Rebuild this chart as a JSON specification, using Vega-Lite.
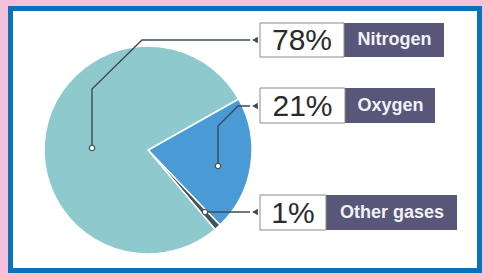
{
  "$schema": "https://vega.github.io/schema/vega-lite/v6.json",
  "width": 483,
  "height": 273,
  "autosize": {"type": "fit", "contains": "padding"},
  "padding": {"left": 10.5, "top": 8.5, "right": 3.5, "bottom": 2.5},
  "background": "#f3c1dd",
  "config": {
    "view": {"fill": "#ffffff", "stroke": "#0b72b9", "strokeWidth": 5},
    "font": "Liberation Sans"
  },
  "datasets": {
    "gases": [
      {"gas": "Oxygen", "percent": 21, "ord": 1},
      {"gas": "Other gases", "percent": 1, "ord": 2},
      {"gas": "Nitrogen", "percent": 78, "ord": 3}
    ],
    "labels": [
      {"gas": "Nitrogen", "pct": "78%", "wx1": 112, "wx2": 196, "px2": 296, "ytop": 127, "ybot": 93, "ymid": 110, "tx": 154, "nx": 246.5},
      {"gas": "Oxygen", "pct": "21%", "wx1": 112, "wx2": 197, "px2": 287, "ytop": 62, "ybot": 27, "ymid": 44.5, "tx": 154.5, "nx": 242.5},
      {"gas": "Other gases", "pct": "1%", "wx1": 112, "wx2": 178, "px2": 309, "ytop": -45, "ybot": -80, "ymid": -62.5, "tx": 145, "nx": 244}
    ],
    "leaders": [
      {"gas": "Nitrogen", "step": 0, "x": -56, "y": 2},
      {"gas": "Nitrogen", "step": 1, "x": -56, "y": 61},
      {"gas": "Nitrogen", "step": 2, "x": -6, "y": 110},
      {"gas": "Nitrogen", "step": 3, "x": 102, "y": 110},
      {"gas": "Oxygen", "step": 0, "x": 70, "y": -16},
      {"gas": "Oxygen", "step": 1, "x": 70, "y": 24},
      {"gas": "Oxygen", "step": 2, "x": 90, "y": 44},
      {"gas": "Oxygen", "step": 3, "x": 102, "y": 44},
      {"gas": "Other gases", "step": 0, "x": 57, "y": -62},
      {"gas": "Other gases", "step": 3, "x": 102, "y": -62}
    ]
  },
  "encoding": {},
  "layer": [
    {
      "data": {"name": "gases"},
      "mark": {"type": "arc", "outerRadius": 104, "stroke": "#ffffff", "strokeWidth": 1.5},
      "encoding": {
        "x": {"datum": 0, "type": "quantitative", "scale": {"domain": [-137.5, 331.5], "nice": false, "zero": false}, "axis": null},
        "y": {"datum": 0, "type": "quantitative", "scale": {"domain": [-120.5, 141.5], "nice": false, "zero": false}, "axis": null},
        "theta": {"field": "percent", "type": "quantitative", "stack": true, "scale": {"range": [1.058, 7.341]}},
        "order": {"field": "ord", "type": "quantitative"},
        "color": {"field": "gas", "type": "nominal", "legend": null, "scale": {"domain": ["Nitrogen", "Oxygen", "Other gases"], "range": ["#8ecacd", "#4a9ad6", "#44525c"]}}
      }
    },
    {
      "data": {"name": "leaders"},
      "mark": {"type": "line", "stroke": "#3d4c55", "strokeWidth": 1.4},
      "encoding": {
        "x": {"field": "x", "type": "quantitative"},
        "y": {"field": "y", "type": "quantitative"},
        "detail": {"field": "gas"},
        "order": {"field": "step", "type": "quantitative"}
      }
    },
    {
      "data": {"name": "leaders"},
      "transform": [{"filter": "datum.step == 0"}],
      "mark": {"type": "point", "filled": true, "fill": "#ffffff", "stroke": "#3d4c55", "strokeWidth": 1.2, "size": 30, "opacity": 1},
      "encoding": {
        "x": {"field": "x", "type": "quantitative"},
        "y": {"field": "y", "type": "quantitative"}
      }
    },
    {
      "data": {"name": "leaders"},
      "transform": [{"filter": "datum.step == 3"}],
      "mark": {"type": "point", "shape": "triangle-left", "filled": true, "color": "#3d4c55", "size": 45, "opacity": 1, "xOffset": 5},
      "encoding": {
        "x": {"field": "x", "type": "quantitative"},
        "y": {"field": "y", "type": "quantitative"}
      }
    },
    {
      "data": {"name": "labels"},
      "mark": {"type": "rect", "color": "#585679"},
      "encoding": {
        "x": {"field": "wx2", "type": "quantitative"},
        "x2": {"field": "px2"},
        "y": {"field": "ytop", "type": "quantitative"},
        "y2": {"field": "ybot"}
      }
    },
    {
      "data": {"name": "labels"},
      "mark": {"type": "rect", "fill": "#ffffff", "stroke": "#8c8c8c", "strokeWidth": 1},
      "encoding": {
        "x": {"field": "wx1", "type": "quantitative"},
        "x2": {"field": "wx2"},
        "y": {"field": "ytop", "type": "quantitative"},
        "y2": {"field": "ybot"}
      }
    },
    {
      "data": {"name": "labels"},
      "mark": {"type": "text", "fontSize": 30, "color": "#2b2b2b", "align": "center", "baseline": "middle", "dy": 1},
      "encoding": {
        "x": {"field": "tx", "type": "quantitative"},
        "y": {"field": "ymid", "type": "quantitative"},
        "text": {"field": "pct"}
      }
    },
    {
      "data": {"name": "labels"},
      "mark": {"type": "text", "fontSize": 18, "fontWeight": "bold", "color": "#f2f2f6", "align": "center", "baseline": "middle"},
      "encoding": {
        "x": {"field": "nx", "type": "quantitative"},
        "y": {"field": "ymid", "type": "quantitative"},
        "text": {"field": "gas"}
      }
    }
  ]
}
